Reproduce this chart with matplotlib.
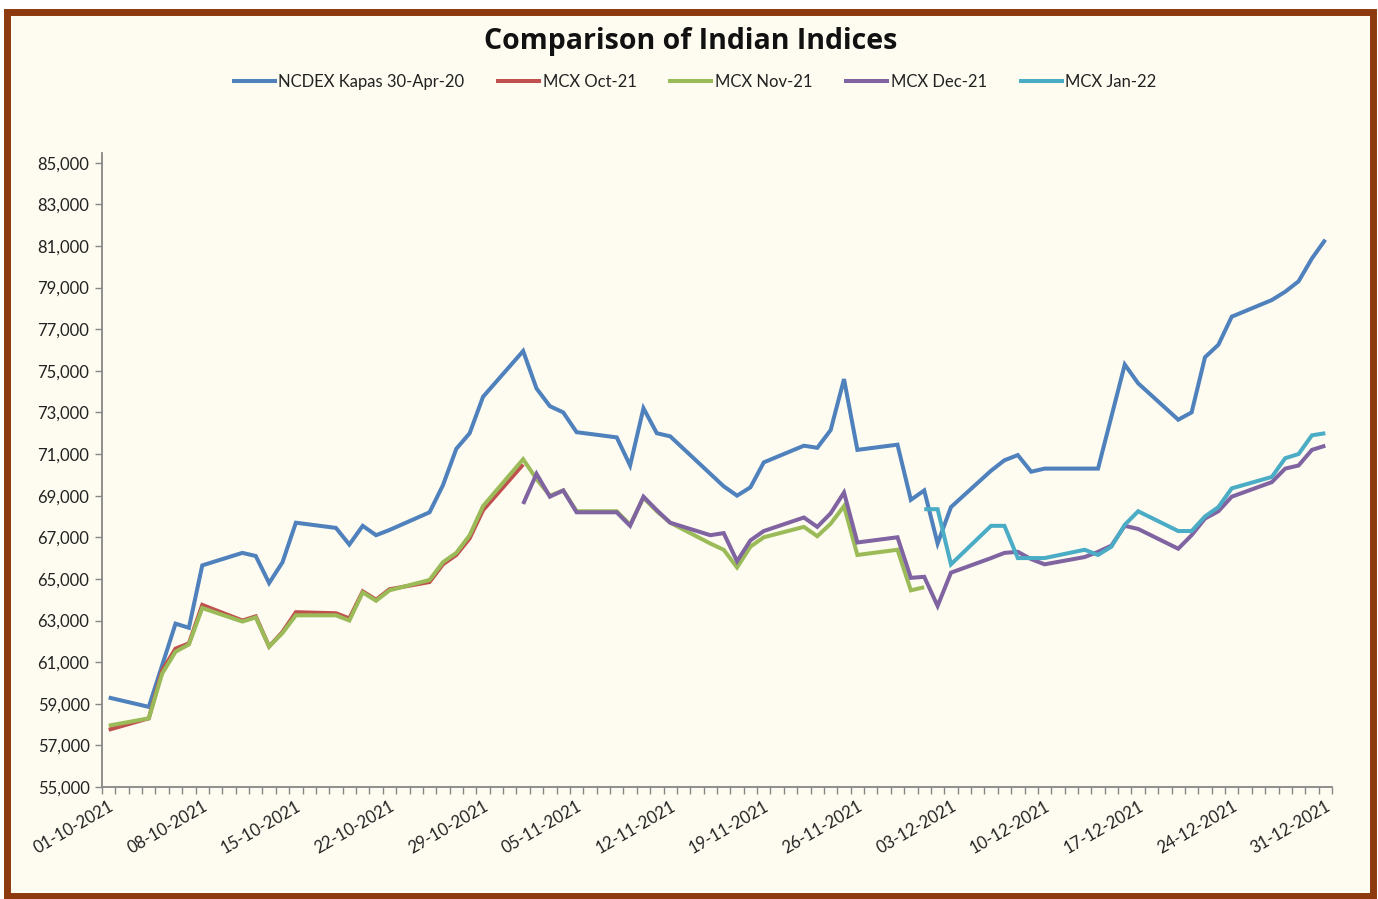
import numpy as np
import pandas as pd
import matplotlib
matplotlib.use("Agg")
import matplotlib.pyplot as plt
from matplotlib.patches import Rectangle
from matplotlib.ticker import FuncFormatter

plt.rcParams['font.family'] = ['Lato', 'DejaVu Sans']

nan = np.nan

dates = [
    "2021-10-01", "2021-10-04", "2021-10-05", "2021-10-06", "2021-10-07", "2021-10-08",
    "2021-10-11", "2021-10-12", "2021-10-13", "2021-10-14", "2021-10-15",
    "2021-10-18", "2021-10-19", "2021-10-20", "2021-10-21", "2021-10-22",
    "2021-10-25", "2021-10-26", "2021-10-27", "2021-10-28", "2021-10-29",
    "2021-11-01", "2021-11-02", "2021-11-03", "2021-11-04", "2021-11-05",
    "2021-11-08", "2021-11-09", "2021-11-10", "2021-11-11", "2021-11-12",
    "2021-11-15", "2021-11-16", "2021-11-17", "2021-11-18", "2021-11-19",
    "2021-11-22", "2021-11-23", "2021-11-24", "2021-11-25", "2021-11-26",
    "2021-11-29", "2021-11-30", "2021-12-01", "2021-12-02", "2021-12-03",
    "2021-12-06", "2021-12-07", "2021-12-08", "2021-12-09", "2021-12-10",
    "2021-12-13", "2021-12-14", "2021-12-15", "2021-12-16", "2021-12-17",
    "2021-12-20", "2021-12-21", "2021-12-22", "2021-12-23", "2021-12-24",
    "2021-12-27", "2021-12-28", "2021-12-29", "2021-12-30", "2021-12-31",
]

ncdex_kapas = [
    59300, 58850, 60850, 62850, 62650, 65650,
    66250, 66100, 64800, 65800, 67700,
    67450, 66650, 67550, 67100, 67350,
    68200, 69500, 71250, 72000, 73750,
    75950, 74150, 73300, 73000, 72050,
    71800, 70450, 73200, 72000, 71850,
    70050, 69450, 69000, 69400, 70600,
    71400, 71300, 72150, 74600, 71200,
    71450, 68800, 69250, 66700, 68450,
    70200, 70700, 70950, 70150, 70300,
    70300, 70300, 72800, 75300, 74400,
    72650, 73000, 75650, 76250, 77600,
    78400, 78800, 79300, 80400, 81300,
]

mcx_oct21 = [
    57750, 58300, 60600, 61650, 61900, 63750,
    63000, 63200, 61750, 62450, 63400,
    63350, 63100, 64400, 64000, 64500,
    64850, 65700, 66150, 66950, 68300,
    70500, nan, nan, nan, nan,
] + [nan] * 40

mcx_nov21 = [
    57950, 58300, 60450, 61500, 61850, 63600,
    62950, 63150, 61750, 62400, 63250,
    63250, 63000, 64350, 63950, 64450,
    64950, 65800, 66250, 67100, 68500,
    70750, 69800, 69000, 69250, 68250,
    68250, 67600, 68900, 68250, 67700,
    66700, 66400, 65550, 66550, 67000,
    67500, 67050, 67650, 68500, 66150,
    66400, 64450, 64600,
] + [nan] * 22

mcx_dec21 = [nan] * 21 + [
    68600, 70050, 68950, 69250, 68200,
    68200, 67550, 68950, 68300, 67700,
    67100, 67200, 65850, 66850, 67300,
    67950, 67500, 68150, 69150, 66750,
    67000, 65050, 65100, 63700, 65300,
    66000, 66250, 66300, 65950, 65700,
    66050, 66300, 66600, 67550, 67400,
    66450, 67100, 67900, 68250, 68950,
    69650, 70300, 70450, 71200, 71400,
]

mcx_jan22 = [nan] * 43 + [
    68350, 68350, 65700,
    67550, 67550, 66000, 66000, 66000,
    66400, 66150, 66550, 67600, 68250,
    67300, 67300, 68000, 68450, 69350,
    69900, 70800, 71000, 71900, 72000,
]

series_names = ["NCDEX Kapas 30-Apr-20", "MCX Oct-21", "MCX Nov-21", "MCX Dec-21", "MCX Jan-22"]
series_values = [ncdex_kapas, mcx_oct21, mcx_nov21, mcx_dec21, mcx_jan22]
series_colors = ["#4F81BD", "#C0504D", "#9BBB59", "#8064A2", "#4BACC6"]

tick_dates = ["01-10-2021", "08-10-2021", "15-10-2021", "22-10-2021", "29-10-2021",
              "05-11-2021", "12-11-2021", "19-11-2021", "26-11-2021", "03-12-2021",
              "10-12-2021", "17-12-2021", "24-12-2021", "31-12-2021"]

W, H = 1378, 899
fig = plt.figure(figsize=(W / 100, H / 100), dpi=100, facecolor="white")

cream = "#FEFCF0"
brown = "#8E3A0F"
frame = Rectangle((7 / W, 3.5 / H), 1366 / W, 883.5 / H, transform=fig.transFigure,
                  facecolor=cream, edgecolor=brown, linewidth=5.0)
frame.set_zorder(-10)
fig.patches.append(frame)

ax = fig.add_axes([102 / W, 1 - 787 / H, (1332 - 102) / W, (787 - 152.7) / H])
ax.set_facecolor("none")
ax.set_zorder(5)

start = pd.Timestamp("2021-10-01")
x = np.array([(pd.Timestamp(d) - start).days for d in dates], dtype=float)

for name, vals, col in zip(series_names, series_values, series_colors):
    ax.plot(x, np.array(vals, dtype=float), color=col, lw=2.9, label=name,
            solid_joinstyle="miter", solid_capstyle="butt")

ax.set_xlim(-0.5, 91.5)
ax.set_ylim(55000, 85480)
ax.set_yticks(np.arange(55000, 85001, 2000))
ax.yaxis.set_major_formatter(FuncFormatter(lambda v, p: f"{int(v):,}"))

tick_pos = [(pd.to_datetime(t, format="%d-%m-%Y") - start).days for t in tick_dates]
ax.set_xticks(tick_pos)
ax.set_xticklabels(tick_dates, rotation=30, ha="right", rotation_mode="anchor")
ax.set_xticks(np.arange(-0.5, 92, 1.0), minor=True)

spine_col = "#868686"
for s in ["top", "right"]:
    ax.spines[s].set_visible(False)
for s in ["left", "bottom"]:
    ax.spines[s].set_color(spine_col)
    ax.spines[s].set_linewidth(1.3)

ax.tick_params(axis="x", which="major", length=0, pad=8, labelsize=12, labelcolor="#222222")
ax.tick_params(axis="x", which="minor", length=5, color=spine_col, width=1.0, direction="out")
ax.tick_params(axis="y", which="major", length=5, color=spine_col, width=1.0, labelsize=12,
               labelcolor="#222222", pad=4)

fig.text(691 / W, 1 - 41 / H, "Comparison of Indian Indices", ha="center", va="center",
         fontsize=20.5, fontweight="bold", color="#111111", family=["Open Sans", "DejaVu Sans"])

handles, labels = ax.get_legend_handles_labels()
leg = fig.legend(handles, labels, loc="center", bbox_to_anchor=(694 / W, 1 - 82 / H), ncol=5,
                 frameon=False, fontsize=12, handlelength=2.7, handletextpad=0.1,
                 columnspacing=1.9, borderaxespad=0)
for t in leg.get_texts():
    t.set_color("#222222")

fig.savefig("out.png", dpi=100, facecolor="white")
